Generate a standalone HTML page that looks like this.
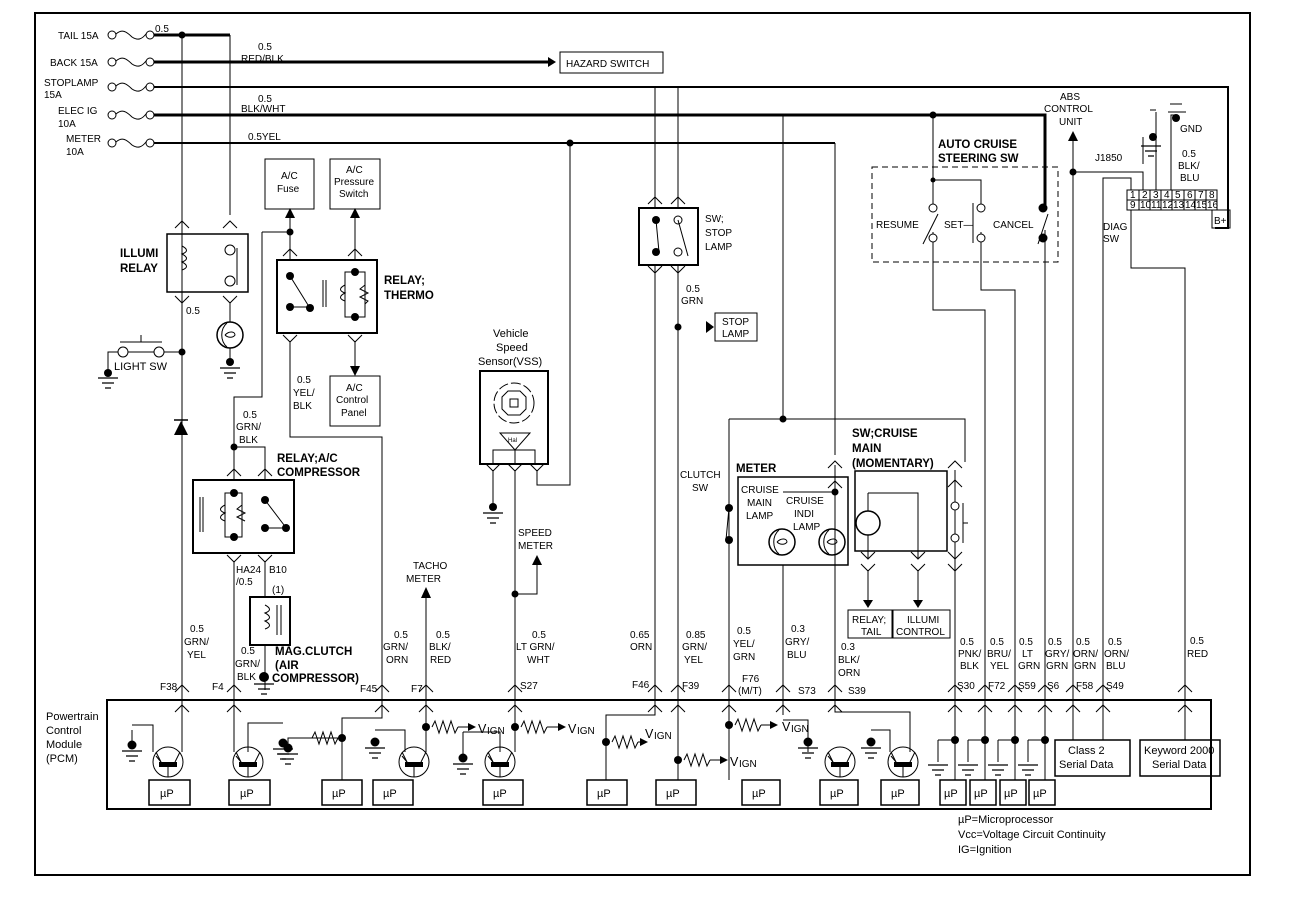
<!DOCTYPE html>
<html><head><meta charset="utf-8"><style>
html,body{margin:0;padding:0;background:#fff}
svg{display:block}
text{font-family:"Liberation Sans",sans-serif;font-size:10px;fill:#000}
.b{font-weight:bold;font-size:11.5px}
.m{font-size:11px}
.big{font-size:12.5px}
</style></head><body>
<svg width="1312" height="920" viewBox="0 0 1312 920" xmlns="http://www.w3.org/2000/svg">
<defs>
<g id="up"><path d="M-7,6 L0,-1 L7,6" fill="none" stroke="#000" stroke-width="1"/></g>
<g id="dn"><path d="M-7,-6 L0,1 L7,-6" fill="none" stroke="#000" stroke-width="1"/></g>
<g id="gnd"><path d="M-10,0 H10 M-6,5 H6 M-3,10 H3" stroke="#000" stroke-width="1.2"/></g>
<g id="fuse"><circle cx="0" cy="0" r="4" fill="none" stroke="#000"/><path d="M4,-1 C10,-6 14,-4 20,2 C26,6 30,4 34,-1" fill="none" stroke="#000"/><circle cx="38" cy="0" r="4" fill="none" stroke="#000"/></g>
<g id="tr"><circle r="15" fill="none" stroke="#000"/><rect x="-9" y="0" width="18" height="5"/><path d="M-7,0 L-12,-10 M7,0 L12,-10 M0,5 V15" stroke="#000"/><path d="M-7,0 L-12,-6" stroke="#000"/></g>
<g id="res"><path d="M0,0 l3,-6 l4,12 l4,-12 l4,12 l4,-12 l4,12 l3,-6" fill="none" stroke="#000"/></g>
<g id="lamp"><circle r="13" fill="none" stroke="#000" stroke-width="1.5"/><path d="M-3,-12 C-10,-6 -10,6 -3,12 M-5,0 C0,-5 5,-3 5,0 C3,3 -2,3 -5,0" fill="none" stroke="#000"/></g>
</defs>
<g stroke="#000" fill="none" stroke-width="1">
<rect x="35" y="13" width="1215" height="862" stroke-width="2"/>
<!-- PCM -->
<rect x="107" y="700" width="1104" height="109" stroke-width="2"/>
</g>
<!-- fuses -->
<use href="#fuse" x="112" y="35"/><use href="#fuse" x="112" y="62"/><use href="#fuse" x="112" y="87"/><use href="#fuse" x="112" y="115"/><use href="#fuse" x="112" y="143"/>
<text x="58" y="39">TAIL 15A</text><text x="50" y="66">BACK 15A</text>
<text x="44" y="86">STOPLAMP</text><text x="44" y="98">15A</text>
<text x="58" y="114">ELEC IG</text><text x="58" y="127">10A</text>
<text x="66" y="142">METER</text><text x="66" y="155">10A</text>
<g stroke="#000" fill="none">
<path d="M154,35 H230" stroke-width="3"/>
<path d="M154,62 H548" stroke-width="3"/>
<path d="M154,87 H1228 V228 H1215" stroke-width="2"/>
<path d="M154,115 H1045 V206" stroke-width="3"/>
<path d="M154,143 H835" stroke-width="2"/>
<path d="M182,35 V700 M230,35 V215"/>
</g>
<path d="M548,57 L556,62 L548,67Z"/>
<rect x="560" y="52" width="103" height="21" fill="none" stroke="#000"/>
<text x="566" y="67">HAZARD SWITCH</text>
<text x="155" y="32">0.5</text><text x="258" y="50">0.5</text><text x="241" y="62">RED/BLK</text>
<text x="258" y="102">0.5</text><text x="241" y="112">BLK/WHT</text><text x="248" y="140">0.5YEL</text>
<circle cx="182" cy="35" r="3.5"/>
<!-- ILLUMI relay -->
<rect x="167" y="234" width="81" height="58" fill="none" stroke="#000" stroke-width="1.5"/>
<text class="b" x="120" y="257">ILLUMI</text><text class="b" x="120" y="272">RELAY</text>
<use href="#up" x="182" y="222"/><use href="#up" x="230" y="222"/><use href="#dn" x="182" y="302"/><use href="#dn" x="230" y="302"/>
<path d="M182,246 c6,3 6,6 0,8 c6,3 6,6 0,8 c6,3 6,6 0,8" fill="none" stroke="#000"/>
<circle cx="230" cy="250" r="5" fill="#fff" stroke="#000"/><circle cx="230" cy="281" r="5" fill="#fff" stroke="#000"/>
<path d="M237,248 V285" stroke="#000"/>
<text x="186" y="314">0.5</text>
<path d="M230,302 V322 M230,348 V362" stroke="#000"/>
<use href="#lamp" x="230" y="335"/><circle cx="230" cy="362" r="4"/><use href="#gnd" x="230" y="368"/>
<path d="M108,372 V352 H118 M128,352 H154 M164,352 H182 M120,342 H162 M141,342 V335" fill="none" stroke="#000"/>
<circle cx="123" cy="352" r="5" fill="#fff" stroke="#000"/><circle cx="159" cy="352" r="5" fill="#fff" stroke="#000"/>
<circle cx="182" cy="352" r="3.5"/><circle cx="108" cy="373" r="4"/><use href="#gnd" x="108" y="378"/>
<text x="114" y="370" class="m">LIGHT SW</text>
<path d="M174,435 L188,435 L181,421Z"/><path d="M174,420 H188" stroke="#000" stroke-width="1.5"/>
<!-- AC fuse etc -->
<rect x="265" y="159" width="49" height="50" fill="none" stroke="#000"/><text x="281" y="179">A/C</text><text x="277" y="192">Fuse</text>
<rect x="330" y="159" width="50" height="50" fill="none" stroke="#000"/><text x="346" y="173">A/C</text><text x="334" y="185">Pressure</text><text x="339" y="197">Switch</text>
<path d="M290,214 V260 M355,214 V260 M262,232 H290 M262,232 V397 H234 V480" fill="none" stroke="#000"/>
<path d="M285,218 L290,208 L295,218Z M350,218 L355,208 L360,218Z"/><circle cx="290" cy="232" r="3.5"/>
<rect x="277" y="260" width="100" height="73" fill="none" stroke="#000" stroke-width="2"/>
<use href="#up" x="290" y="250"/><use href="#up" x="355" y="250"/><use href="#dn" x="290" y="341"/><use href="#dn" x="355" y="341"/>
<circle cx="290" cy="276" r="4"/><circle cx="290" cy="307" r="4"/><circle cx="310" cy="308" r="4"/><circle cx="355" cy="272" r="4"/><circle cx="355" cy="317" r="4"/>
<path d="M290,276 L308,305 M290,307 H310 M323,280 V307 M326,280 V307 M355,272 H345 V317 H355 M355,272 H365 V317 H355 M345,285 c-6,3 -6,6 0,8 c-6,3 -6,6 0,8 M365,285 l-5,4 l8,4 l-8,4 l8,4 l-3,3" fill="none" stroke="#000"/>
<text class="b" x="384" y="284">RELAY;</text><text class="b" x="384" y="299">THERMO</text>
<path d="M355,341 V368 M290,341 V437 H382 V700" fill="none" stroke="#000"/><path d="M350,366 L355,376 L360,366Z"/>
<rect x="330" y="376" width="50" height="50" fill="none" stroke="#000"/><text x="346" y="391">A/C</text><text x="336" y="403">Control</text><text x="341" y="416">Panel</text>
<text x="297" y="383">0.5</text><text x="293" y="396">YEL/</text><text x="293" y="409">BLK</text>
<text x="243" y="418">0.5</text><text x="236" y="430">GRN/</text><text x="239" y="443">BLK</text>
<!-- relay AC compressor -->
<path d="M234,447 H265 V480" fill="none" stroke="#000"/><circle cx="234" cy="447" r="3.5"/>
<rect x="193" y="480" width="101" height="73" fill="none" stroke="#000" stroke-width="2"/>
<use href="#up" x="234" y="470"/><use href="#up" x="265" y="470"/><use href="#dn" x="234" y="561"/><use href="#dn" x="265" y="561"/>
<text class="b" x="277" y="462">RELAY;A/C</text><text class="b" x="277" y="476">COMPRESSOR</text>
<circle cx="234" cy="493" r="4"/><circle cx="234" cy="537" r="4"/><circle cx="265" cy="500" r="4"/><circle cx="265" cy="528" r="4"/><circle cx="286" cy="528" r="4"/>
<path d="M234,493 H225 V537 H234 M234,493 H242 V537 H234 M225,505 c-6,3 -6,6 0,8 c-6,3 -6,6 0,8 M242,505 l-5,4 l8,4 l-8,4 l8,4 M200,497 V532 M203,497 V532 M265,500 L284,525 M265,528 H286" fill="none" stroke="#000"/>
<path d="M234,561 V700 M265,561 V597 M265,645 V690" fill="none" stroke="#000"/>
<text x="236" y="573">HA24</text><text x="236" y="585">/0.5</text><text x="269" y="573">B10</text><text x="272" y="593">(1)</text>
<rect x="250" y="597" width="40" height="48" fill="none" stroke="#000" stroke-width="2"/>
<path d="M265,605 c6,3 6,6 0,8 c6,3 6,6 0,8 c6,3 6,6 0,8 M277,605 V635 M281,605 V635" fill="none" stroke="#000"/>
<circle cx="264" cy="677" r="5"/><use href="#gnd" x="264" y="684"/>
<text class="b" x="275" y="655">MAG.CLUTCH</text><text class="b" x="275" y="669">(AIR</text><text class="b" x="272" y="682">COMPRESSOR)</text>
<text x="241" y="654">0.5</text><text x="235" y="667">GRN/</text><text x="237" y="680">BLK</text>
<text x="190" y="632">0.5</text><text x="184" y="645">GRN/</text><text x="187" y="658">YEL</text>
<text x="394" y="638">0.5</text><text x="383" y="650">GRN/</text><text x="386" y="663">ORN</text>
<text x="436" y="638">0.5</text><text x="429" y="650">BLK/</text><text x="430" y="663">RED</text>
<text x="413" y="569">TACHO</text><text x="406" y="582">METER</text>
<path d="M426,598 V700" stroke="#000"/><path d="M421,598 L426,587 L431,598Z"/>
<!-- VSS -->
<text class="m" x="493" y="337">Vehicle</text><text class="m" x="496" y="351">Speed</text><text class="m" x="478" y="365">Sensor(VSS)</text>
<rect x="480" y="371" width="68" height="93" fill="none" stroke="#000" stroke-width="2"/>
<circle cx="514" cy="403" r="20" fill="none" stroke="#000" stroke-dasharray="10,3"/>
<path d="M508,391 h12 l6,6 v12 l-6,6 h-12 l-6,-6 v-12z" fill="none" stroke="#000"/><rect x="510" y="399" width="8" height="8" fill="none" stroke="#000"/>
<path d="M500,433 H530 L515,450Z M493,464 V450 H535 V464 M515,450 V464" fill="none" stroke="#000"/>
<text x="508" y="442" style="font-size:6px">Hal</text>
<path d="M493,470 V505 M515,470 V700 M537,470 V485 H570 V143 M515,594 H537 V565" fill="none" stroke="#000"/>
<use href="#dn" x="493" y="470"/><use href="#dn" x="515" y="470"/><use href="#dn" x="537" y="470"/>
<circle cx="493" cy="507" r="4"/><use href="#gnd" x="493" y="513"/><circle cx="515" cy="594" r="3.5"/><circle cx="570" cy="143" r="3.5"/>
<path d="M532,565 L537,555 L542,565Z"/>
<text x="518" y="536">SPEED</text><text x="518" y="549">METER</text>
<text x="532" y="638">0.5</text><text x="516" y="650">LT GRN/</text><text x="527" y="663">WHT</text>
<!-- stop lamp -->
<path d="M655,87 V700 M678,87 V700" fill="none" stroke="#000"/>
<rect x="639" y="208" width="59" height="57" fill="#fff" stroke="#000" stroke-width="2"/>
<circle cx="656" cy="220" r="4"/><circle cx="656" cy="252" r="4"/><circle cx="678" cy="220" r="4" fill="#fff" stroke="#000"/><circle cx="678" cy="252" r="4" fill="#fff" stroke="#000"/>
<path d="M656,220 L659,252 M678,220 L688,256" stroke="#000"/>
<use href="#up" x="655" y="198"/><use href="#up" x="678" y="198"/><use href="#dn" x="655" y="272"/><use href="#dn" x="678" y="272"/>
<text x="705" y="222">SW;</text><text x="705" y="236">STOP</text><text x="705" y="250">LAMP</text>
<text x="686" y="292">0.5</text><text x="681" y="304">GRN</text>
<circle cx="678" cy="327" r="3.5"/><path d="M706,321 L714,327 L706,333Z"/>
<rect x="715" y="313" width="42" height="28" fill="none" stroke="#000"/><text x="722" y="325">STOP</text><text x="722" y="337">LAMP</text>
<text x="630" y="638">0.65</text><text x="630" y="650">ORN</text>
<text x="686" y="638">0.85</text><text x="682" y="650">GRN/</text><text x="684" y="663">YEL</text>
<!-- meter -->
<path d="M783,115 V419 M835,143 V455 M729,419 H965 V462 M729,419 V700" fill="none" stroke="#000"/>
<circle cx="783" cy="419" r="3.5"/>
<text x="680" y="478">CLUTCH</text><text x="692" y="491">SW</text>
<circle cx="729" cy="508" r="4"/><circle cx="729" cy="540" r="4"/><path d="M729,508 L726,540" stroke="#000"/>
<text class="b" x="736" y="472">METER</text>
<rect x="738" y="477" width="110" height="88" fill="none" stroke="#000" stroke-width="1.5"/>
<path d="M783,565 V700 M835,465 V700 M783,492 H835" fill="none" stroke="#000"/>
<circle cx="835" cy="492" r="3.5"/>
<text x="741" y="493">CRUISE</text><text x="747" y="506">MAIN</text><text x="746" y="519">LAMP</text>
<text x="786" y="504">CRUISE</text><text x="794" y="517">INDI</text><text x="793" y="530">LAMP</text>
<use href="#lamp" x="782" y="542"/><use href="#lamp" x="832" y="542"/>
<use href="#up" x="835" y="462"/><use href="#up" x="835" y="482"/>
<text class="b" x="852" y="437">SW;CRUISE</text><text class="b" x="852" y="452">MAIN</text><text class="b" x="852" y="467">(MOMENTARY)</text>
<rect x="855" y="471" width="92" height="80" fill="none" stroke="#000" stroke-width="1.5"/>
<use href="#up" x="955" y="462"/><use href="#up" x="955" y="481"/>
<path d="M955,470 V700 M868,493 H918 V558 M868,493 V558" fill="none" stroke="#000"/>
<circle cx="868" cy="523" r="12" fill="#fff" stroke="#000" stroke-width="1.5"/>
<circle cx="955" cy="506" r="4" fill="#fff" stroke="#000"/><circle cx="955" cy="538" r="4" fill="#fff" stroke="#000"/><path d="M963,503 V543 M963,523 H968" stroke="#000"/>
<use href="#dn" x="868" y="558"/><use href="#dn" x="918" y="558"/><use href="#dn" x="955" y="558"/>
<use href="#dn" x="868" y="570"/><use href="#dn" x="918" y="570"/><use href="#dn" x="955" y="570"/>
<path d="M868,570 V600 M918,570 V600" stroke="#000"/><path d="M863,600 L868,608 L873,600Z M913,600 L918,608 L923,600Z"/>
<rect x="848" y="610" width="44" height="28" fill="none" stroke="#000"/><rect x="893" y="610" width="57" height="28" fill="none" stroke="#000"/>
<text x="852" y="623">RELAY;</text><text x="861" y="635">TAIL</text><text x="907" y="623">ILLUMI</text><text x="896" y="635">CONTROL</text>
<text x="737" y="634">0.5</text><text x="733" y="647">YEL/</text><text x="733" y="660">GRN</text>
<text x="791" y="632">0.3</text><text x="785" y="645">GRY/</text><text x="787" y="658">BLU</text>
<text x="841" y="650">0.3</text><text x="838" y="663">BLK/</text><text x="838" y="676">ORN</text>
<!-- auto cruise -->
<rect x="872" y="167" width="186" height="95" fill="none" stroke="#000" stroke-dasharray="6,4"/>
<text class="b" x="938" y="148">AUTO CRUISE</text><text class="b" x="938" y="162">STEERING SW</text>
<path d="M933,115 V212 M933,180 H981 V205 M933,232 V310 H985 V700 M981,232 V290 H1015 V700 M1045,230 V700" fill="none" stroke="#000"/>
<circle cx="933" cy="115" r="3.5"/><circle cx="933" cy="180" r="2.5"/>
<circle cx="933" cy="208" r="4" fill="#fff" stroke="#000"/><circle cx="933" cy="238" r="4" fill="#fff" stroke="#000"/>
<circle cx="981" cy="208" r="4" fill="#fff" stroke="#000"/><circle cx="981" cy="238" r="4" fill="#fff" stroke="#000"/>
<circle cx="1043" cy="208" r="4.5"/><circle cx="1043" cy="238" r="4.5"/>
<path d="M938,214 L923,244 M973,203 V243 M1048,214 L1038,244" stroke="#000"/>
<text x="876" y="228">RESUME</text><text x="944" y="228">SET—</text><text x="993" y="228">CANCEL</text>
<text x="1060" y="100">ABS</text><text x="1044" y="112">CONTROL</text><text x="1059" y="125">UNIT</text>
<path d="M1073,140 V700 M1073,172 H1143 V192 M1103,700 V178 H1131 V192 M1131,210 V268 H1185 V700 M1156,192 V112 M1171,192 V115 H1175" fill="none" stroke="#000"/>
<path d="M1068,141 L1073,131 L1078,141Z"/><circle cx="1073" cy="172" r="3.5"/>
<text x="1095" y="161">J1850</text><text x="1103" y="230">DIAG</text><text x="1103" y="242">SW</text>
<path d="M1150,110 H1156 M1143,137 V164 M1150,137 H1156" stroke="#000"/><circle cx="1153" cy="137" r="4"/><use href="#gnd" x="1151" y="146"/>
<circle cx="1176" cy="118" r="4"/><path d="M1168,112 H1186 M1170,104 H1182" stroke="#000"/>
<text x="1180" y="132">GND</text><text x="1182" y="157">0.5</text><text x="1178" y="169">BLK/</text><text x="1180" y="181">BLU</text>
<rect x="1127" y="190" width="90" height="20" fill="#fff" stroke="#000"/><path d="M1127,200 H1217 M1139,190 V210 M1150,190 V210 M1161,190 V210 M1172,190 V210 M1184,190 V210 M1195,190 V210 M1206,190 V210" stroke="#000"/>
<g style="font-size:7px"><text x="1130" y="198">1</text><text x="1142" y="198">2</text><text x="1153" y="198">3</text><text x="1164" y="198">4</text><text x="1175" y="198">5</text><text x="1187" y="198">6</text><text x="1198" y="198">7</text><text x="1209" y="198">8</text>
<text x="1130" y="208">9</text><text x="1140" y="208">10</text><text x="1151" y="208">11</text><text x="1162" y="208">12</text><text x="1173" y="208">13</text><text x="1185" y="208">14</text><text x="1196" y="208">15</text><text x="1207" y="208">16</text></g>
<rect x="1212" y="210" width="18" height="18" fill="none" stroke="#000"/><text x="1214" y="224">B+</text>
<!-- right labels -->
<g><text x="960" y="645">0.5</text><text x="958" y="657">PNK/</text><text x="960" y="669">BLK</text>
<text x="990" y="645">0.5</text><text x="987" y="657">BRU/</text><text x="990" y="669">YEL</text>
<text x="1019" y="645">0.5</text><text x="1022" y="657">LT</text><text x="1018" y="669">GRN</text>
<text x="1048" y="645">0.5</text><text x="1045" y="657">GRY/</text><text x="1046" y="669">GRN</text>
<text x="1076" y="645">0.5</text><text x="1073" y="657">ORN/</text><text x="1074" y="669">GRN</text>
<text x="1108" y="645">0.5</text><text x="1104" y="657">ORN/</text><text x="1106" y="669">BLU</text>
<text x="1190" y="644">0.5</text><text x="1187" y="657">RED</text></g>
<!-- connector labels -->
<text x="160" y="690">F38</text><text x="212" y="690">F4</text><text x="360" y="692">F45</text><text x="411" y="692">F7</text><text x="520" y="689">S27</text>
<text x="632" y="688">F46</text><text x="682" y="689">F39</text><text x="742" y="682">F76</text><text x="738" y="694">(M/T)</text><text x="798" y="694">S73</text><text x="848" y="694">S39</text>
<text x="957" y="689">S30</text><text x="988" y="689">F72</text><text x="1018" y="689">S59</text><text x="1047" y="689">S6</text><text x="1076" y="689">F58</text><text x="1106" y="689">S49</text>
<g id="conns">
<use href="#up" x="182" y="686"/><use href="#up" x="234" y="686"/><use href="#up" x="382" y="686"/><use href="#up" x="426" y="686"/><use href="#up" x="515" y="686"/><use href="#up" x="655" y="686"/><use href="#up" x="678" y="686"/><use href="#up" x="729" y="686"/><use href="#up" x="783" y="686"/><use href="#up" x="835" y="686"/><use href="#up" x="955" y="686"/><use href="#up" x="985" y="686"/><use href="#up" x="1015" y="686"/><use href="#up" x="1045" y="686"/><use href="#up" x="1073" y="686"/><use href="#up" x="1103" y="686"/><use href="#up" x="1185" y="686"/>
<use href="#up" x="182" y="706"/><use href="#up" x="234" y="706"/><use href="#up" x="382" y="706"/><use href="#up" x="426" y="706"/><use href="#up" x="515" y="706"/><use href="#up" x="655" y="706"/><use href="#up" x="678" y="706"/><use href="#up" x="729" y="706"/><use href="#up" x="783" y="706"/><use href="#up" x="835" y="706"/><use href="#up" x="955" y="706"/><use href="#up" x="985" y="706"/><use href="#up" x="1015" y="706"/><use href="#up" x="1045" y="706"/><use href="#up" x="1073" y="706"/><use href="#up" x="1103" y="706"/><use href="#up" x="1185" y="706"/>
</g>
<text class="m" x="46" y="720">Powertrain</text><text class="m" x="46" y="734">Control</text><text class="m" x="46" y="748">Module</text><text class="m" x="46" y="762">(PCM)</text>
<!-- PCM internals -->
<g stroke="#000" fill="none">
<path d="M182,700 V752 M132,730 V745 M132,725 H153 V752 M234,700 V752 M283,723 H248 V752 M382,700 V718 H342 V780 M288,745 V738 H342 M426,700 V752 M426,727 V727 M342,738 V738 M375,730 H405 V752 M515,700 V752 M463,738 V741 M463,732 H500 V752 M655,700 V715 H606 V780 M678,700 V780 M729,700 V780 M783,700 V715 M783,720 H808 V752 M835,700 V712 H910 V752 M871,730 H890 V752 M955,700 V780 M985,700 V780 M1015,700 V780 M1045,700 V780 M1073,700 V740 M1103,700 V740 M1185,700 V740"/>
<path d="M938,740 H955 M968,740 H985 M998,740 H1015 M1028,740 H1045 M938,740 V762 M968,740 V762 M998,740 V762 M1028,740 V762"/>
</g>
<circle cx="132" cy="745" r="4.5"/><use href="#gnd" x="132" y="751"/>
<circle cx="283" cy="743" r="4.5"/><use href="#gnd" x="283" y="749"/>
<circle cx="288" cy="748" r="4.5"/><use href="#gnd" x="288" y="754"/>
<circle cx="375" cy="742" r="4.5"/><use href="#gnd" x="375" y="748"/>
<circle cx="463" cy="758" r="4.5"/><use href="#gnd" x="463" y="764"/><path d="M463,732 V754" stroke="#000"/>
<circle cx="808" cy="742" r="4.5"/><use href="#gnd" x="808" y="748"/>
<circle cx="871" cy="742" r="4.5"/><use href="#gnd" x="871" y="748"/>
<use href="#gnd" x="938" y="765"/><use href="#gnd" x="968" y="765"/><use href="#gnd" x="998" y="765"/><use href="#gnd" x="1028" y="765"/>
<circle cx="955" cy="740" r="4"/><circle cx="985" cy="740" r="4"/><circle cx="1015" cy="740" r="4"/><circle cx="1045" cy="740" r="4"/>
<use href="#tr" x="168" y="762"/><use href="#tr" x="248" y="762"/><use href="#tr" x="414" y="762"/><use href="#tr" x="500" y="762"/><use href="#tr" x="840" y="762"/><use href="#tr" x="903" y="762"/>
<circle cx="342" cy="738" r="4"/><use href="#res" x="312" y="738"/>
<circle cx="426" cy="727" r="4"/><use href="#res" x="432" y="727"/><path d="M458,727 H470" stroke="#000"/><path d="M468,723 L476,727 L468,731Z"/>
<text class="big" x="478" y="733">V</text><text x="487" y="734">IGN</text>
<circle cx="515" cy="727" r="4"/><use href="#res" x="521" y="727"/><path d="M547,727 H560" stroke="#000"/><path d="M558,723 L566,727 L558,731Z"/>
<text class="big" x="568" y="733">V</text><text x="577" y="734">IGN</text>
<circle cx="606" cy="742" r="4"/><use href="#res" x="612" y="742"/><path d="M638,742 H642" stroke="#000"/><path d="M640,738 L648,742 L640,746Z"/>
<text class="big" x="645" y="738">V</text><text x="654" y="739">IGN</text>
<circle cx="678" cy="760" r="4"/><use href="#res" x="684" y="760"/><path d="M710,760 H722" stroke="#000"/><path d="M720,756 L728,760 L720,764Z"/>
<text class="big" x="730" y="766">V</text><text x="739" y="767">IGN</text>
<circle cx="729" cy="725" r="4"/><use href="#res" x="735" y="725"/><path d="M761,725 H772" stroke="#000"/><path d="M770,721 L778,725 L770,729Z"/>
<text class="big" x="782" y="731">V</text><text x="791" y="732">IGN</text>
<g fill="none" stroke="#000" stroke-width="1.5">
<rect x="149" y="780" width="41" height="25"/><rect x="229" y="780" width="41" height="25"/><rect x="322" y="780" width="40" height="25"/><rect x="373" y="780" width="40" height="25"/><rect x="483" y="780" width="40" height="25"/><rect x="587" y="780" width="40" height="25"/><rect x="656" y="780" width="40" height="25"/><rect x="742" y="780" width="38" height="25"/><rect x="820" y="780" width="38" height="25"/><rect x="881" y="780" width="38" height="25"/>
<rect x="940" y="780" width="26" height="25"/><rect x="970" y="780" width="26" height="25"/><rect x="1000" y="780" width="26" height="25"/><rect x="1029" y="780" width="26" height="25"/>
<rect x="1055" y="740" width="75" height="36"/><rect x="1140" y="740" width="80" height="36"/>
</g>
<g class="m"><text class="m" x="160" y="797">µP</text><text class="m" x="240" y="797">µP</text><text class="m" x="332" y="797">µP</text><text class="m" x="383" y="797">µP</text><text class="m" x="493" y="797">µP</text><text class="m" x="597" y="797">µP</text><text class="m" x="666" y="797">µP</text><text class="m" x="752" y="797">µP</text><text class="m" x="830" y="797">µP</text><text class="m" x="891" y="797">µP</text>
<text class="m" x="944" y="797">µP</text><text class="m" x="974" y="797">µP</text><text class="m" x="1004" y="797">µP</text><text class="m" x="1033" y="797">µP</text></g>
<text class="m" x="1068" y="754">Class 2</text><text class="m" x="1059" y="768">Serial Data</text>
<text class="m" x="1144" y="754">Keyword 2000</text><text class="m" x="1152" y="768">Serial Data</text>
<text class="m" x="958" y="823">µP=Microprocessor</text><text class="m" x="958" y="838">Vcc=Voltage Circuit Continuity</text><text class="m" x="958" y="853">IG=Ignition</text>
</svg>
</body></html>
